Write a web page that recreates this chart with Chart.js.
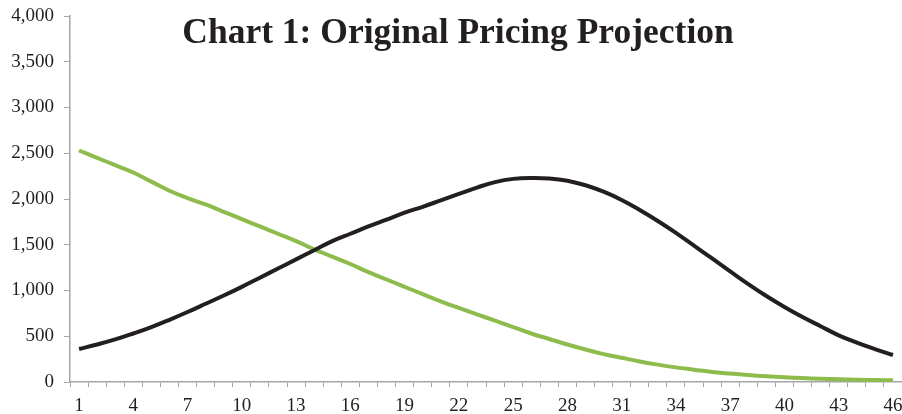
<!DOCTYPE html>
<html>
<head>
<meta charset="utf-8">
<script src="https://cdn.jsdelivr.net/npm/chart.js@4.4.1/dist/chart.umd.min.js"></script>
<style>
  html, body { margin: 0; padding: 0; background: #fff; }
  #wrap { width: 902px; height: 414px; }
</style>
</head>
<body>
<div id="wrap"><canvas id="myChart" width="902" height="414"></canvas></div>
<script>
// periods 1..46
const periods = [];
for (let i = 1; i <= 46; i++) periods.push(String(i));

const blackSeries = [
  360, 410, 465, 530, 600, 680, 765, 855, 945, 1040,
  1140, 1240, 1340, 1440, 1540, 1620, 1700, 1775, 1850, 1915,
  1985, 2055, 2125, 2185, 2220, 2230, 2225, 2200, 2150, 2080,
  1990, 1880, 1760, 1630, 1490, 1350, 1210, 1070, 940, 820,
  710, 610, 510, 430, 360, 295
];

const greenSeries = [
  2530, 2450, 2370, 2290, 2190, 2090, 2010, 1940, 1860, 1780,
  1700, 1620, 1540, 1450, 1370, 1290, 1200, 1120, 1040, 960,
  880, 810, 740, 670, 600, 530, 470, 410, 355, 305,
  265, 225, 190, 160, 135, 110, 92, 76, 63, 52,
  43, 36, 30, 25, 21, 18
];

const yTicks = [0, 500, 1000, 1500, 2000, 2500, 3000, 3500, 4000];
const chartTitle = 'Chart 1: Original Pricing Projection';

const axisGrey = '#a6a6a6';
const serif = '"Liberation Serif", "Times New Roman", serif';

const titlePlugin = {
  id: 'bigTitle',
  afterDraw(chart) {
    const c = chart.ctx;
    c.save();
    c.font = 'bold 35.5px ' + serif;
    c.fillStyle = '#231f20';
    c.textAlign = 'center';
    c.textBaseline = 'alphabetic';
    c.fillText(chartTitle, 458, 43);
    c.restore();
  }
};

var ctx = document.getElementById('myChart');
var myChart = new Chart(ctx, {
  type: 'line',
  data: {
    labels: periods,
    datasets: [{
      label: 'Projection A',
      data: blackSeries,
      borderColor: '#231f20',
      borderWidth: 4,
      pointRadius: 0,
      tension: 0.4,
      fill: false
    }, {
      label: 'Projection B',
      data: greenSeries,
      borderColor: '#8dbb4c',
      borderWidth: 4,
      pointRadius: 0,
      tension: 0.4,
      fill: false
    }]
  },
  options: {
    responsive: false,
    animation: false,
    layout: { padding: { top: 16, right: 0, left: 0, bottom: 0 } },
    plugins: {
      legend: { display: false },
      tooltip: { enabled: false },
      title: { display: false }
    },
    scales: {
      x: {
        offset: true,
        grid: {
          offset: true,
          drawOnChartArea: false,
          drawTicks: true,
          tickLength: 5,
          color: axisGrey,
          lineWidth: 1
        },
        border: { color: axisGrey, width: 1.5 },
        ticks: {
          autoSkip: false,
          maxRotation: 0,
          padding: 8,
          color: '#231f20',
          font: { family: serif, size: 19 },
          callback: function (val, index) {
            return index % 3 === 0 ? this.getLabelForValue(val) : '';
          }
        },
        afterFit: function (scale) {
          scale.height = 32;
          scale.paddingLeft = 0;
          scale.paddingRight = 0;
        }
      },
      y: {
        min: 0,
        max: 4000,
        afterBuildTicks: function (scale) {
          scale.ticks = yTicks.map(v => ({ value: v }));
        },
        grid: {
          drawOnChartArea: false,
          drawTicks: true,
          tickLength: 6,
          color: axisGrey
        },
        border: { color: axisGrey, width: 1.5 },
        ticks: {
          padding: 10,
          color: '#231f20',
          font: { family: serif, size: 19 },
          callback: v => v.toLocaleString('en-US')
        },
        afterFit: function (scale) {
          scale.width = 70;
          scale.paddingTop = 0;
          scale.paddingBottom = 0;
        }
      }
    }
  },
  plugins: [titlePlugin]
});
</script>
</body>
</html>
